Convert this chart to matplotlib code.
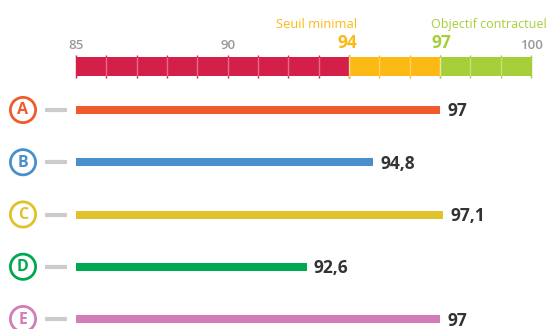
import matplotlib
matplotlib.use("Agg")
import matplotlib.pyplot as plt

plt.rcParams['font.family'] = ['Open Sans', 'DejaVu Sans']

labels = ["A", "B", "C", "D", "E"]
values = [97, 94.8, 97.1, 92.6, 97]
value_text = ["97", "94,8", "97,1", "92,6", "97"]
colors = ["#F15A2B", "#4A8FCD", "#E0C22A", "#00A94F", "#D27DB5"]

scale_min, scale_max = 85, 100
seuil, objectif = 94, 97
zones = [(85, 94, "#D42049"), (94, 97, "#FDB913"), (97, 100, "#A6CE39")]

W, H = 550, 329
fig = plt.figure(figsize=(W / 100, H / 100), dpi=100)
ax = fig.add_axes([0, 0, 1, 1])
ax.axis("off")

# pixel mapping: 85 -> x=76, 100 -> x=531 ; row 0 -> y=110, row step 52.25
px = (531 - 76) / 15
x0 = scale_min - 76 / px
ax.set_xlim(x0, x0 + W / px)
py = 52.25
y0 = -110 / py
ax.set_ylim(y0 + H / py, y0)


def X(p):
    return x0 + p / px


def Y(p):
    return y0 + p / py


# scale band
band_y = Y(66.5)
band_h = 19 / py
for a, b, c in zones:
    ax.barh(band_y, b - a, left=a, height=band_h, color=c, zorder=2)
    for t in range(a, b + 1):
        ax.vlines(t, Y(55), Y(78), color=c, lw=1, zorder=1)
        if a < t < b or t in (seuil, objectif):
            ax.vlines(t, Y(57), Y(76), color="white", alpha=0.35, lw=1, zorder=3)

for t in [85, 90, 100]:
    ax.text(t, Y(49), str(t), ha="center", va="baseline", fontsize=9.5,
            fontweight="semibold", color="#999999")
ax.text(X(357), Y(48), str(seuil), ha="right", va="baseline", fontsize=12.5,
        fontweight="bold", color="#FDB913")
ax.text(X(357), Y(28), "Seuil minimal", ha="right", va="baseline", fontsize=9.3,
        color="#FDB913")
ax.text(X(431), Y(48), str(objectif), ha="left", va="baseline", fontsize=12.5,
        fontweight="bold", color="#A6CE39")
ax.text(X(431), Y(28), "Objectif contractuel", ha="left", va="baseline", fontsize=9,
        color="#A6CE39")

# bars
rows = list(range(len(labels)))
ax.barh(rows, [v - scale_min for v in values], left=scale_min, height=8 / py,
        color=colors, zorder=2)
for i, (v, s) in enumerate(zip(values, value_text)):
    ax.text(v + 7 / px, i + 1.5 / py, s, ha="left", va="center", fontsize=12.5,
            fontweight="bold", color="#333333")

# circled letters and dashes
ax.hlines(rows, X(45), X(67), color="#CCCCCC", lw=3)
ax.scatter([X(23)] * len(rows), rows, s=330, facecolor="white", edgecolor=colors,
           linewidths=2, zorder=4, clip_on=False)
for i, (lab, c) in enumerate(zip(labels, colors)):
    ax.text(X(23), i + 0.5 / py, lab, ha="center", va="center", fontsize=11.5,
            fontweight="bold", color=c, zorder=5)

fig.savefig("out.png", dpi=100)
